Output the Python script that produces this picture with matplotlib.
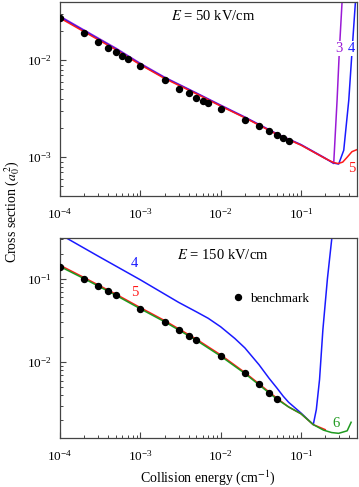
import matplotlib
matplotlib.use('Agg')
import matplotlib.pyplot as plt

plt.rcParams['font.family'] = ['Liberation Serif', 'DejaVu Serif']
plt.rcParams['mathtext.fontset'] = 'stix'
plt.rcParams['axes.unicode_minus'] = False

# ---- top panel, E = 50 kV/cm ----
bench50_x = [1e-4, 2e-4, 3e-4, 4e-4, 5e-4, 6e-4, 7e-4, 1e-3, 2e-3, 3e-3, 4e-3,
             5e-3, 6e-3, 7e-3, 1e-2, 2e-2, 3e-2, 4e-2, 5e-2, 6e-2, 7e-2]
bench50_y = [0.027, 0.019, 0.0155, 0.0134, 0.0122, 0.011, 0.0102, 0.0087, 0.0062,
             0.0051, 0.0046, 0.0041, 0.0038, 0.0036, 0.00315, 0.00243, 0.0021,
             0.00185, 0.0017, 0.00157, 0.00146]

n3_x = [1e-4, 2e-4, 5e-4, 1e-3, 2e-3, 5e-3, 1e-2, 2e-2, 5e-2, 0.1, 0.2, 0.255,
        0.281, 0.30, 0.325, 0.34]
n3_y = [0.0285, 0.0205, 0.0133, 0.0093, 0.0067, 0.0046, 0.00345, 0.0026, 0.00175,
        0.00135, 0.00098, 0.00086, 0.0039, 0.0127, 0.042, 0.07]

n4_x = [1e-4, 2e-4, 5e-4, 1e-3, 2e-3, 5e-3, 1e-2, 2e-2, 5e-2, 0.1, 0.2, 0.255,
        0.294, 0.34, 0.393, 0.432, 0.477, 0.5]
n4_y = [0.0279, 0.0201, 0.0130, 0.0091, 0.0066, 0.00455, 0.0034, 0.00257, 0.00173,
        0.00134, 0.00097, 0.00087, 0.00085, 0.00118, 0.0039, 0.0127, 0.042, 0.06]

n5_x = [1e-4, 2e-4, 5e-4, 1e-3, 2e-3, 5e-3, 1e-2, 2e-2, 5e-2, 0.1, 0.2, 0.255,
        0.29, 0.33, 0.375, 0.43, 0.475, 0.5]
n5_y = [0.0273, 0.0197, 0.0128, 0.0090, 0.0065, 0.0045, 0.00337, 0.00255, 0.00172,
        0.00133, 0.00097, 0.00088, 0.00086, 0.00089, 0.0010, 0.00114, 0.00118, 0.0012]

# ---- bottom panel, E = 150 kV/cm ----
bench150_x = [1e-4, 2e-4, 3e-4, 4e-4, 5e-4, 1e-3, 2e-3, 3e-3, 4e-3, 5e-3, 1e-2,
              2e-2, 3e-2, 4e-2, 5e-2]
bench150_y = [0.14, 0.1, 0.0817, 0.0705, 0.063, 0.0436, 0.0305, 0.0244, 0.0207,
              0.0182, 0.0118, 0.0073, 0.0054, 0.0043, 0.00363]

m4_x = [1e-4, 3e-4, 1e-3, 3e-3, 5e-3, 7e-3, 1e-2, 1.5e-2, 2e-2, 3e-2, 4e-2, 5e-2,
        6e-2, 7e-2, 0.1, 0.142, 0.155, 0.17, 0.187, 0.213, 0.242, 0.26]
m4_y = [0.34, 0.186, 0.097, 0.052, 0.040, 0.0335, 0.0265, 0.0192, 0.0148, 0.0093,
        0.0064, 0.0049, 0.0039, 0.0033, 0.00245, 0.00178, 0.0027, 0.0062, 0.0244,
        0.1, 0.31, 0.5]

m5_x = [1e-4, 2e-4, 5e-4, 1e-3, 2e-3, 5e-3, 1e-2, 2e-2, 5e-2, 7e-2, 0.1, 0.142, 0.2]
m5_y = [0.145, 0.103, 0.065, 0.045, 0.0315, 0.0188, 0.0122, 0.0075, 0.0037, 0.0029,
        0.0024, 0.00178, 0.00155]

m6_x = [1e-4, 2e-4, 5e-4, 1e-3, 2e-3, 5e-3, 1e-2, 2e-2, 5e-2, 7e-2, 0.1, 0.142,
        0.19, 0.24, 0.294, 0.375, 0.42]
m6_y = [0.14, 0.1, 0.063, 0.0436, 0.0305, 0.0182, 0.0118, 0.0073, 0.0036, 0.0029,
        0.0024, 0.00178, 0.00153, 0.00143, 0.0014, 0.0015, 0.0019]

purple = '#9a1ad6'
blue = '#1a1aff'
red = '#ff1a1a'
green = '#1f9a1f'

fig = plt.figure(figsize=(3.59, 4.87), dpi=100)
ax1 = fig.add_axes([0.167, 0.598, 0.828, 0.398])
ax2 = fig.add_axes([0.167, 0.1012, 0.828, 0.4107])

lw = 1.1
wbox = dict(facecolor='white', edgecolor='none', pad=0.6)
ax1.plot(n3_x, n3_y, color=purple, lw=lw)
ax1.plot(n4_x, n4_y, color=blue, lw=lw)
ax1.plot(n5_x, n5_y, color=red, lw=lw)
ax1.plot(bench50_x, bench50_y, 'o', color='black', ms=4.3, zorder=5)
ax1.set_xlim(1e-4, 0.5)
ax1.set_ylim(4e-4, 0.04)
ax1.text(0.374, 0.928, '$E$ = 50 kV/cm', transform=ax1.transAxes, fontsize=10.5,
         va='center', ha='left')
ax1.text(0.30, 0.0133, '3', color=purple, fontsize=10.5, ha='center', va='center',
         bbox=wbox, zorder=6)
ax1.text(0.428, 0.0133, '4', color=blue, fontsize=10.5, ha='center', va='center',
         bbox=wbox, zorder=6)
ax1.text(0.424, 0.00077, '5', color=red, fontsize=10.5, ha='center', va='center')

ax2.plot(m4_x, m4_y, color=blue, lw=lw)
ax2.plot(m5_x, m5_y, color=red, lw=lw)
ax2.plot(m6_x, m6_y, color=green, lw=lw)
ax2.plot(bench150_x, bench150_y, 'o', color='black', ms=4.3, zorder=5,
         label='benchmark')
ax2.set_xlim(1e-4, 0.5)
ax2.set_ylim(1.24e-3, 0.31)
ax2.text(0.394, 0.914, '$E$ = 150 kV/cm', transform=ax2.transAxes, fontsize=10.5,
         va='center', ha='left')
ax2.text(8.55e-4, 0.151, '4', color=blue, fontsize=10.5, ha='center', va='center')
ax2.text(8.55e-4, 0.068, '5', color=red, fontsize=10.5, ha='center', va='center')
ax2.text(0.275, 0.00182, '6', color=green, fontsize=10.5, ha='center', va='center')
ax2.legend(loc='center left', bbox_to_anchor=(0.576, 0.694), frameon=False,
           handlelength=1.0, handletextpad=0.4, borderpad=0, borderaxespad=0,
           fontsize=9.5, numpoints=1)

for ax in (ax1, ax2):
    ax.set_xscale('log')
    ax.set_yscale('log')
    for s in ax.spines.values():
        s.set_color('#444444')
        s.set_linewidth(0.9)
    ax.tick_params(which='both', direction='in', top=False, right=False,
                   colors='#444444', labelcolor='black', labelsize=9.5)
    ax.tick_params(which='major', length=4.3, width=0.8)
    ax.tick_params(which='minor', length=2.4, width=0.7)
    ax.tick_params(axis='x', pad=8)
    ax.tick_params(axis='y', pad=6)

fig.text(0.033, 0.565, 'Cross section ($a_0^{\\,2}$)', rotation=90, fontsize=10,
         ha='center', va='center')
fig.text(0.58, 0.0185, 'Collision energy (cm$^{-1}$)', fontsize=10,
         ha='center', va='center')

fig.savefig('out.png', dpi=100)
